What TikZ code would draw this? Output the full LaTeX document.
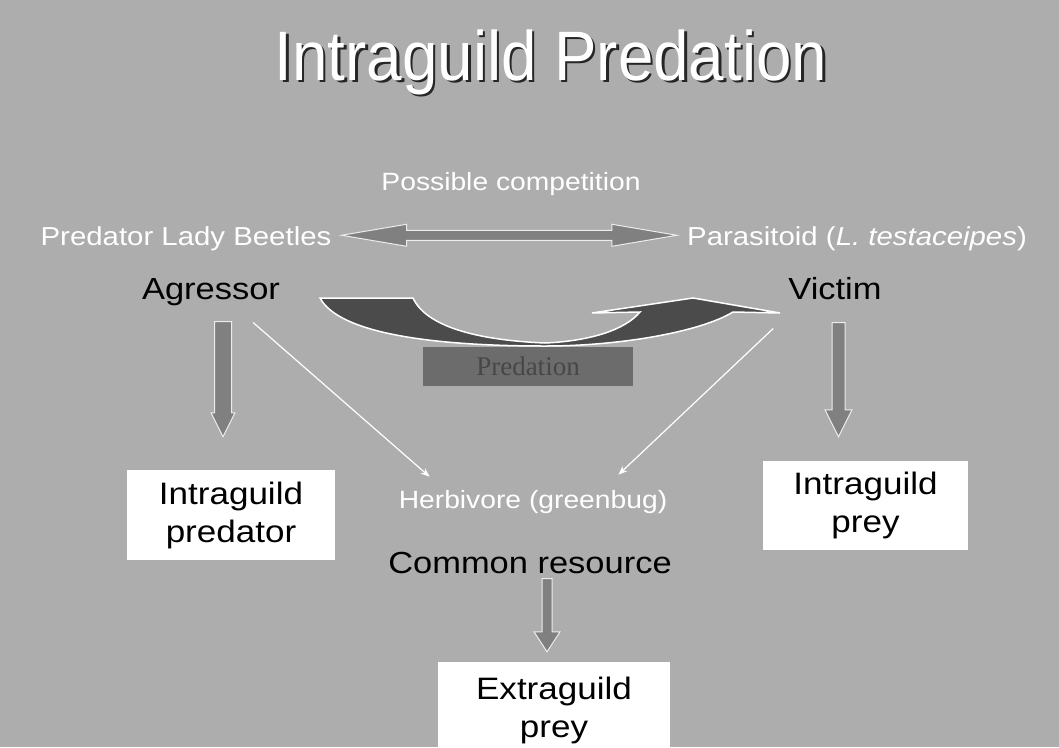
\documentclass[tikz,border=0pt]{standalone}
\usepackage{fontspec}
\setmainfont{Liberation Sans}[FakeStretch=1.13]
\newfontfamily\titlefont{Liberation Sans}[FakeStretch=0.91]
\newfontfamily\boxfont{Liberation Serif}
\usetikzlibrary{arrows.meta, calc}
\definecolor{SlideGray}{HTML}{ADADAD}
\definecolor{ArrowGray}{HTML}{808080}
\definecolor{CurveGray}{HTML}{4B4B4B}
\definecolor{BoxGray}{HTML}{6C6C6C}

% fat block arrows: tail, tip, half shaft, half head, head length
\newcommand{\fatdown}[5]{%
  \path[fatarrow] let \p1=(#1), \p2=(#2) in
    (\x1-#3pt,\y1) -- (\x1+#3pt,\y1) -- (\x1+#3pt,\y2+#5pt) -- (\x1+#4pt,\y2+#5pt)
    -- (\x1,\y2) -- (\x1-#4pt,\y2+#5pt) -- (\x1-#3pt,\y2+#5pt) -- cycle;}
\newcommand{\fatboth}[5]{%
  \path[fatarrow] let \p1=(#1), \p2=(#2) in
    (\x1,\y1) -- (\x1+#5pt,\y1+#4pt) -- (\x1+#5pt,\y1+#3pt) -- (\x2-#5pt,\y1+#3pt)
    -- (\x2-#5pt,\y1+#4pt) -- (\x2,\y1) -- (\x2-#5pt,\y1-#4pt) -- (\x2-#5pt,\y1-#3pt)
    -- (\x1+#5pt,\y1-#3pt) -- (\x1+#5pt,\y1-#4pt) -- cycle;}

\begin{document}
\begin{tikzpicture}[x=1pt, y=-1pt, >={Stealth[length=9pt,width=7pt]},
  txt/.style={inner sep=0pt, anchor=base},
  whitetxt/.style={txt, text=white, font=\fontsize{26}{30}\selectfont},
  roletxt/.style={txt, font=\fontsize{30.5}{36}\selectfont},
  rolebox/.style={fill=white, inner sep=0pt, align=center, font=\fontsize{31}{38}\selectfont},
  fatarrow/.style={fill=ArrowGray, draw=white!85!gray, line width=1pt},
  thinarrow/.style={->, white, line width=1.2pt}]
  % --- slide background ---
  \fill[SlideGray] (0,0) rectangle (1059,747);
  \useasboundingbox (0,0) rectangle (1059,747);

  % --- title ---
  \node[txt, text=black!85, font=\titlefont\fontsize{70}{76}\selectfont] at (553.5,82.5) {Intraguild Predation};
  \node[txt, text=white, font=\titlefont\fontsize{70}{76}\selectfont] (title) at (551,80) {Intraguild Predation};

  % --- guild members ---
  \node[whitetxt, font=\fontsize{25}{30}\selectfont] (comp) at (511,190) {Possible competition};
  \node[whitetxt] (beetles) at (186,245) {Predator Lady Beetles};
  \node[whitetxt] (parasitoid) at (857,245) {Parasitoid (\textit{L. testaceipes})};
  \node[roletxt] (agressor) at (211,299) {Agressor};
  \node[roletxt] (victim) at (835,299) {Victim};
  \fatboth{[xshift=10pt,yshift=3pt]beetles.east}{[xshift=-10pt,yshift=3pt]parasitoid.west}{5}{11}{65}

  % --- predation link ---
  \node[fill=BoxGray, minimum width=210pt, minimum height=39pt, inner sep=0pt,
        text=black!72, font=\boxfont\fontsize{27}{30}\selectfont] (predation) at (528,366.5) {Predation};
  \path[fill=CurveGray, draw=white, line width=1.5pt]
    (320,298) -- (413,298) .. controls (426,326) and (475,340) .. (545,343)
    .. controls (590,341) and (625,330) .. (640,312) -- (592,313) -- (693,298) -- (780,313)
    -- (733,312) .. controls (700,332) and (620,346) .. (545,346)
    .. controls (440,346) and (340,335) .. cycle;

  % --- roles ---
  \node[rolebox, minimum width=208pt, minimum height=90pt] (igpred) at (231,515) {Intraguild\\predator};
  \node[rolebox, minimum width=205pt, minimum height=89pt] (igprey) at (865.5,505.5) {Intraguild\\prey};
  \node[whitetxt, font=\fontsize{25}{30}\selectfont] (herbivore) at (533,508) {Herbivore (greenbug)};
  \node[roletxt] (common) at (530,573) {Common resource};
  \node[rolebox, minimum width=232pt, minimum height=96pt] (egprey) at (554,710) {Extraguild\\prey};

  % --- feeding links ---
  \fatdown{[xshift=12pt,yshift=-16pt]agressor.south}{[xshift=-8pt,yshift=33pt]igpred.north}{8.5}{12}{24}
  \fatdown{[xshift=3.5pt,yshift=-23pt]victim.south}{[xshift=-27pt,yshift=24pt]igprey.north}{6.5}{13.5}{27}
  \fatdown{[xshift=17pt,yshift=-5pt]common.south}{[xshift=-8pt,yshift=10pt]egprey.north}{5}{13}{20}
  \draw[thinarrow] ([xshift=-27pt,yshift=-17pt]agressor.south east) -- ([xshift=31pt,yshift=13pt]herbivore.north west);
  \draw[thinarrow] ([xshift=-15pt,yshift=-29pt]victim.south west) -- ([xshift=-49pt,yshift=15pt]herbivore.north east);
\end{tikzpicture}
\end{document}
